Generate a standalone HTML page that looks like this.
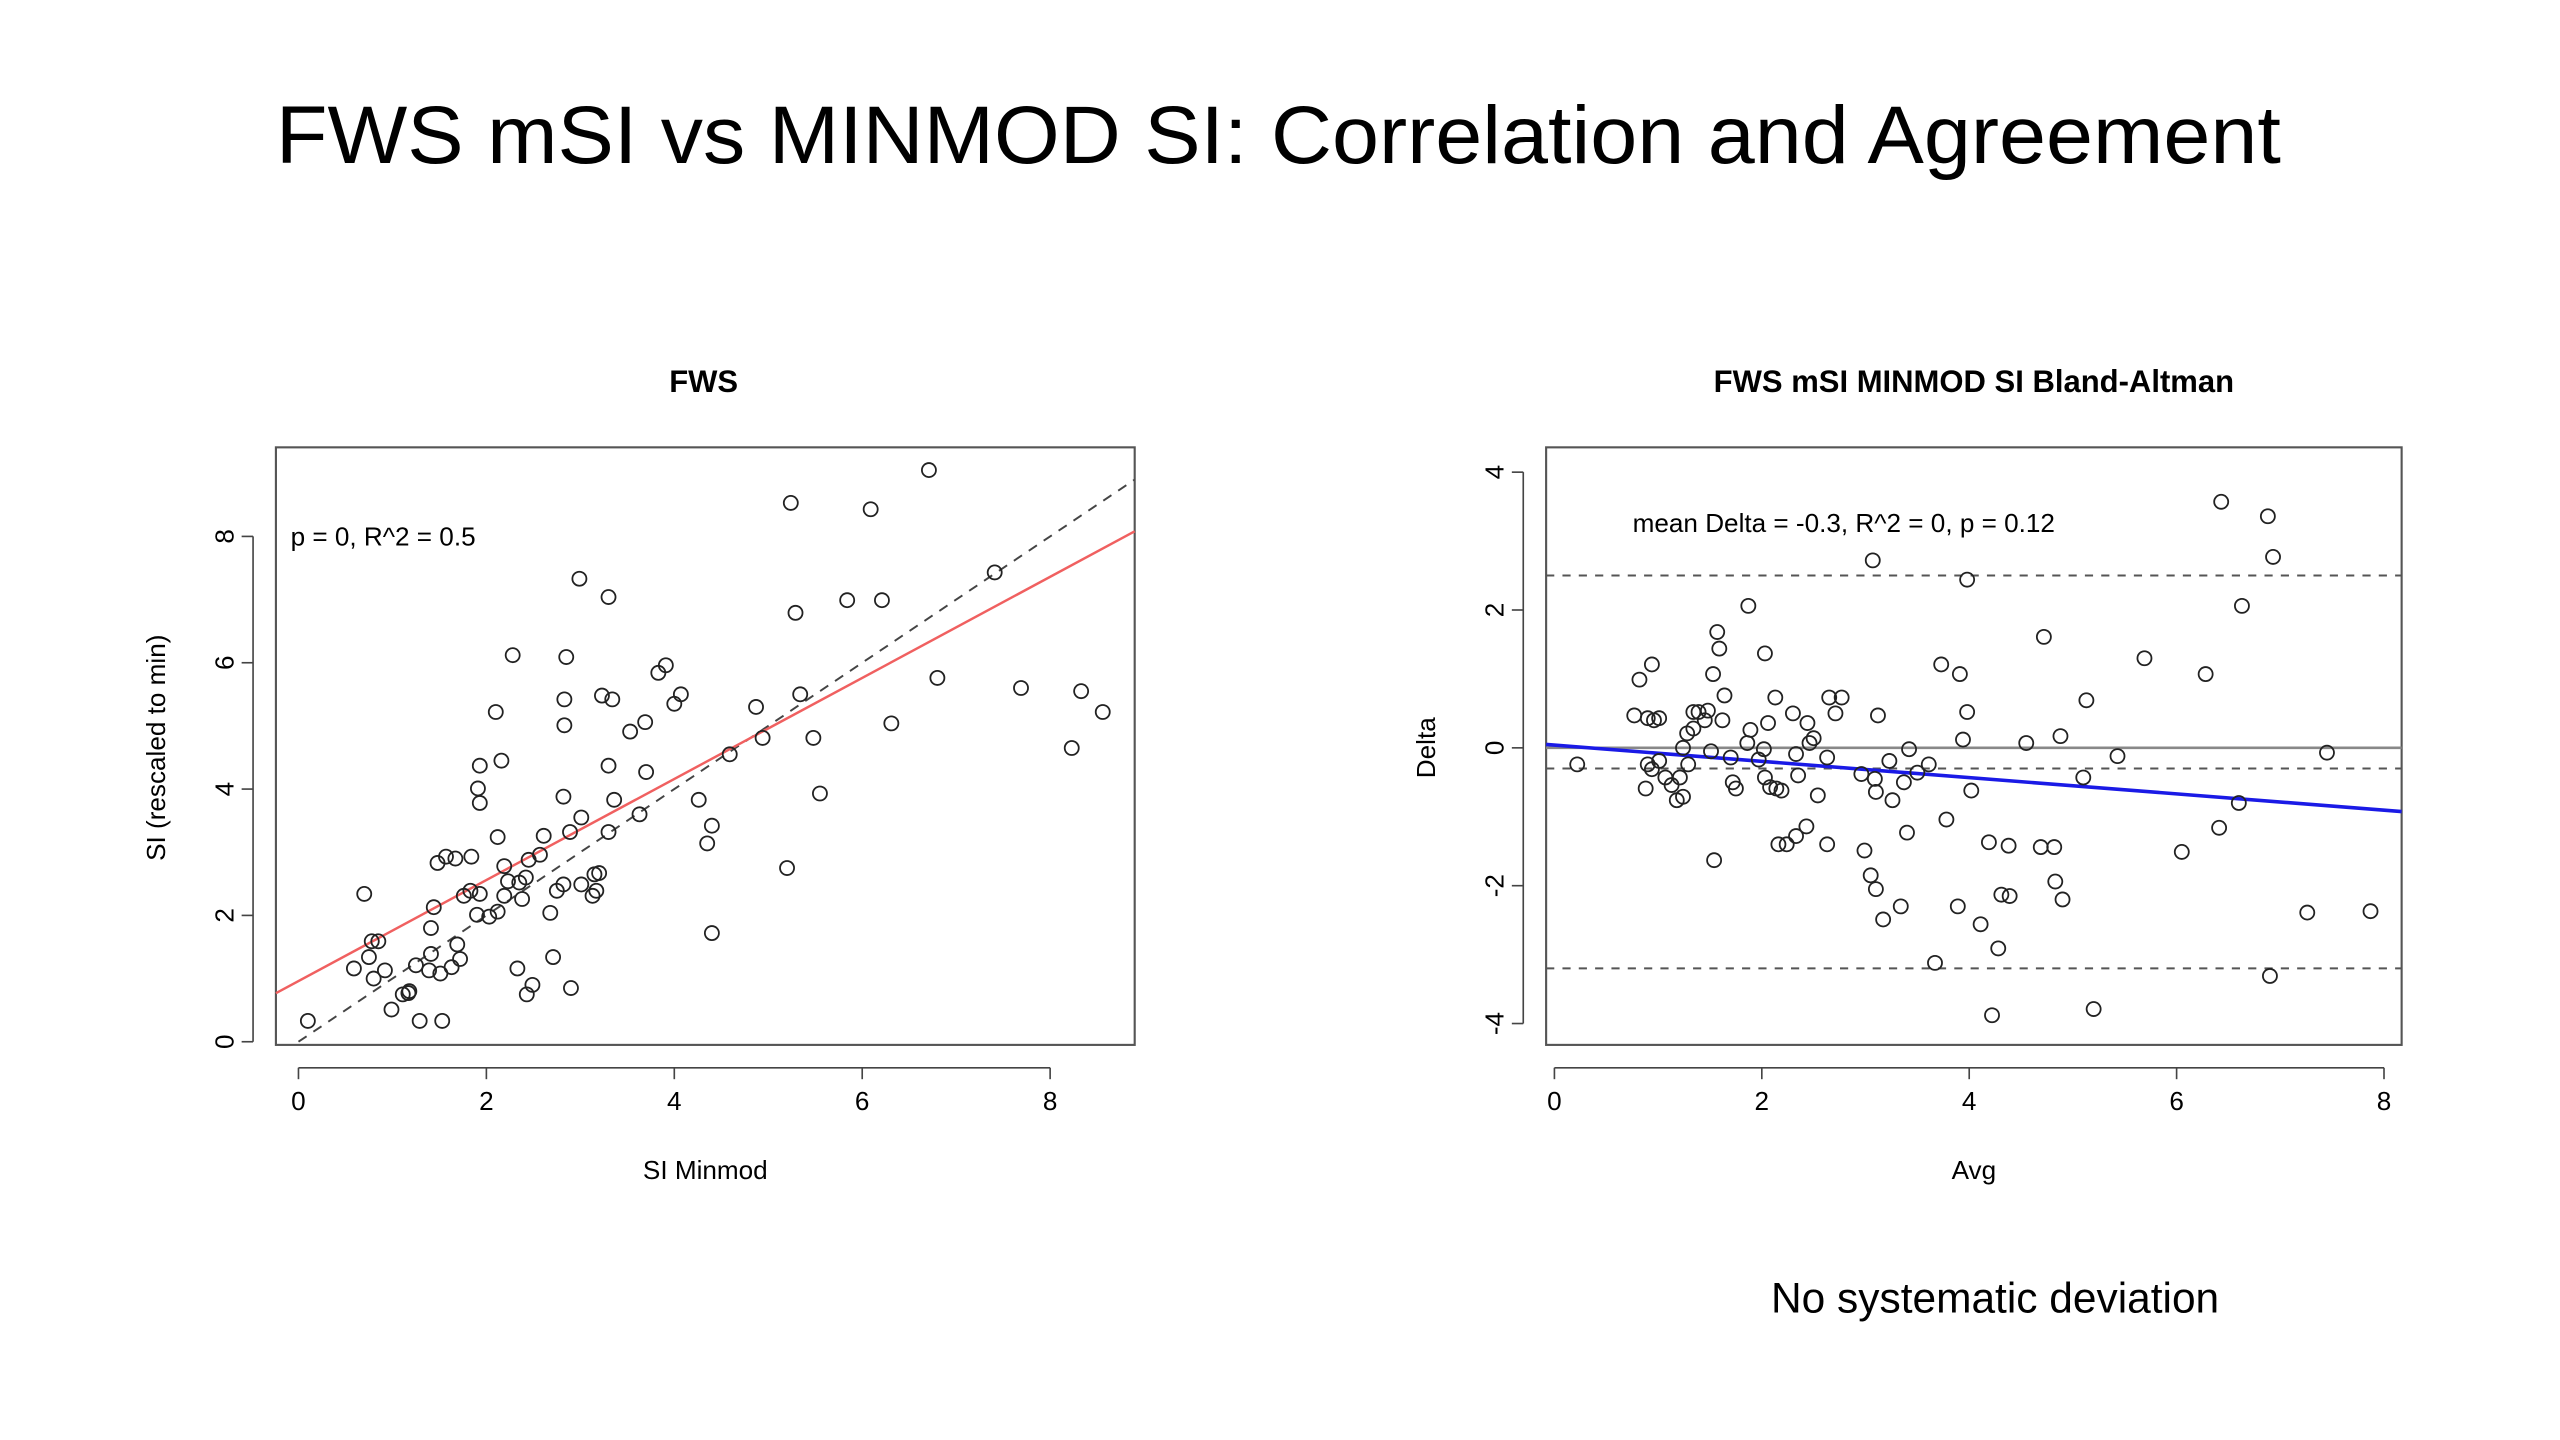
<!DOCTYPE html>
<html><head><meta charset="utf-8"><style>
html,body{margin:0;padding:0;background:#fff;width:2560px;height:1440px;overflow:hidden}
svg{display:block}
text{font-family:"Liberation Sans",sans-serif;fill:#000}
</style></head><body>
<svg id="root" width="2560" height="1440" viewBox="0 0 1568 882" xmlns="http://www.w3.org/2000/svg">
<text x="783" y="100" text-anchor="middle" font-size="50" textLength="1228" lengthAdjust="spacingAndGlyphs">FWS mSI vs MINMOD SI: Correlation and Agreement</text>
<text x="431" y="240" text-anchor="middle" font-size="19" font-weight="bold">FWS</text>
<text x="1209" y="240" text-anchor="middle" font-size="19" font-weight="bold">FWS mSI MINMOD SI Bland-Altman</text>
<text x="432" y="722" text-anchor="middle" font-size="16">SI Minmod</text>
<text transform="translate(101,458) rotate(-90)" text-anchor="middle" font-size="16">SI (rescaled to min)</text>
<text x="1209" y="722" text-anchor="middle" font-size="16">Avg</text>
<text transform="translate(879,458) rotate(-90)" text-anchor="middle" font-size="16">Delta</text>
<text x="178" y="334" font-size="16">p = 0, R^2 = 0.5</text>
<text x="1000" y="326" font-size="16">mean Delta = -0.3, R^2 = 0, p = 0.12</text>
<text x="1222" y="804" text-anchor="middle" font-size="26">No systematic deviation</text>
<g id="left"></g>
<g id="right"></g>
</svg>
<script>
const NS='http://www.w3.org/2000/svg';
// Left scatter data
const leftX=[0.10,0.70,0.59,0.75,0.78,0.85,0.92,0.80,0.99,1.11,1.18,1.17,1.29,1.53,1.25,1.41,1.41,1.44,1.48,1.57,1.67,1.39,1.51,1.63,1.72,1.69,1.76,1.83,1.93,1.90,1.84,1.93,1.91,1.93,2.03,2.12,2.19,2.23,2.12,2.16,2.10,2.28,2.19,2.35,2.38,2.42,2.45,2.57,2.61,2.49,2.33,2.43,2.71,2.68,2.75,2.82,2.85,2.83,2.83,2.82,2.89,3.01,3.01,3.13,3.17,3.20,3.23,3.34,3.30,3.36,3.30,2.99,3.15,2.90,3.30,3.53,3.69,3.63,3.70,3.83,3.91,4.00,4.07,4.26,4.35,4.40,4.40,4.59,4.87,4.94,5.24,5.29,5.34,5.48,5.55,5.20,5.84,6.21,6.31,6.09,6.71,6.80,7.41,7.69,8.23,8.33,8.56];
const leftY=[0.33,2.34,1.16,1.34,1.59,1.59,1.13,1.00,0.51,0.75,0.80,0.77,0.33,0.33,1.21,1.39,1.80,2.13,2.83,2.93,2.90,1.13,1.08,1.18,1.31,1.54,2.31,2.39,2.34,2.01,2.93,4.37,4.01,3.78,1.98,2.06,2.31,2.54,3.24,4.45,5.22,6.12,2.78,2.52,2.26,2.60,2.88,2.96,3.26,0.90,1.16,0.75,1.34,2.04,2.39,2.49,6.09,5.42,5.01,3.88,3.32,3.55,2.49,2.31,2.39,2.67,5.48,5.42,4.37,3.83,7.04,7.33,2.65,0.85,3.32,4.91,5.06,3.60,4.27,5.84,5.96,5.35,5.50,3.83,3.14,3.42,1.72,4.55,5.30,4.81,8.53,6.79,5.50,4.81,3.93,2.75,6.99,6.99,5.04,8.43,9.05,5.76,7.43,5.60,4.65,5.55,5.22];
const leftXTicks=[0,2,4,6,8];
const leftYTicks=[0,2,4,6,8];
const fitIntercept=0.96, fitSlope=0.80;
// Bland-Altman data
const baAvg=[0.22,0.82,0.94,0.77,0.90,0.96,1.01,0.88,0.94,1.01,1.07,0.90,1.13,1.21,1.24,1.28,1.34,1.39,1.29,1.24,1.18,1.34,1.45,1.48,1.53,1.57,1.59,1.64,1.62,1.51,1.54,1.70,1.72,1.75,1.87,1.86,1.89,1.97,2.02,2.03,2.06,2.03,2.08,2.13,2.14,2.19,2.30,2.33,2.35,2.46,2.44,2.50,2.54,2.63,2.65,2.71,2.16,2.24,2.33,2.43,2.63,2.77,2.96,3.12,3.07,3.09,3.10,3.23,3.26,2.99,3.05,3.10,3.34,3.17,3.37,3.42,3.40,3.50,3.61,3.67,3.78,3.73,3.91,3.94,3.98,3.98,4.02,3.89,4.11,4.19,4.22,4.28,4.31,4.38,4.39,4.55,4.72,4.69,4.82,4.83,4.90,4.88,5.10,5.13,5.20,5.43,5.69,6.28,6.05,6.41,6.43,6.60,6.63,6.88,6.90,6.93,7.26,7.45,7.87];
const baDelta=[-0.24,0.99,1.21,0.47,0.43,0.40,0.43,-0.59,-0.31,-0.19,-0.43,-0.24,-0.54,-0.43,0.00,0.21,0.52,0.52,-0.24,-0.71,-0.76,0.28,0.40,0.54,1.07,1.68,1.44,0.76,0.40,-0.05,-1.63,-0.14,-0.50,-0.59,2.06,0.07,0.26,-0.17,-0.02,1.37,0.36,-0.43,-0.57,0.73,-0.59,-0.62,0.50,-0.09,-0.40,0.07,0.36,0.14,-0.69,-0.14,0.73,0.50,-1.40,-1.40,-1.28,-1.14,-1.40,0.73,-0.38,0.47,2.72,-0.45,-0.64,-0.19,-0.76,-1.49,-1.85,-2.05,-2.30,-2.49,-0.50,-0.02,-1.23,-0.36,-0.24,-3.12,-1.04,1.21,1.07,0.12,2.44,0.52,-0.62,-2.30,-2.56,-1.37,-3.88,-2.91,-2.13,-1.42,-2.15,0.07,1.61,-1.44,-1.44,-1.94,-2.20,0.17,-0.43,0.69,-3.79,-0.12,1.30,1.07,-1.51,-1.16,3.57,-0.80,2.06,3.36,-3.31,2.77,-2.39,-0.07,-2.37];
const baXTicks=[0,2,4,6,8];
const baYTicks=[-4,-2,0,2,4];
const meanDelta=-0.3, upperLoA=2.5, lowerLoA=-3.2;
const baIntercept=0.04, baSlope=-0.118;

function el(parent,tag,attrs){const e=document.createElementNS(NS,tag);for(const k in attrs)e.setAttribute(k,attrs[k]);parent.appendChild(e);return e;}
function makePlot(g,box,xr,yr){
  const sx=v=>box.l+(v-xr[0])/(xr[1]-xr[0])*(box.r-box.l);
  const sy=v=>box.b-(v-yr[0])/(yr[1]-yr[0])*(box.b-box.t);
  return {sx,sy};
}
function axes(g,box,sc,xt,yt,prefix){
  const xa=el(g,'g',{});
  
  
  el(xa,'line',{x1:sc.sx(xt[0]),x2:sc.sx(xt[xt.length-1]),y1:box.b+14,y2:box.b+14,stroke:'#444','stroke-width':1});
  xt.forEach(v=>{
    el(xa,'line',{x1:sc.sx(v),x2:sc.sx(v),y1:box.b+14,y2:box.b+21,stroke:'#444','stroke-width':1});
    const t=el(xa,'text',{x:sc.sx(v),y:box.b+40,'text-anchor':'middle','font-size':16});
    
    
    t.textContent=v;
  });
  const ya=el(g,'g',{});
  
  
  el(ya,'line',{x1:box.l-14,x2:box.l-14,y1:sc.sy(yt[0]),y2:sc.sy(yt[yt.length-1]),stroke:'#444','stroke-width':1});
  yt.forEach(v=>{
    el(ya,'line',{x1:box.l-21,x2:box.l-14,y1:sc.sy(v),y2:sc.sy(v),stroke:'#444','stroke-width':1});
    const t=el(ya,'text',{transform:`translate(${box.l-26},${sc.sy(v)}) rotate(-90)`,'text-anchor':'middle','font-size':16});
    
    
    t.textContent=v;
  });
  const fr=el(g,'rect',{x:box.l,y:box.t,width:box.r-box.l,height:box.b-box.t,fill:'none',stroke:'#555','stroke-width':1.3});
  
  
}
function points(g,sc,xs,ys,prefix){
  xs.forEach((x,i)=>{
    const c=el(g,'circle',{cx:sc.sx(x),cy:sc.sy(ys[i]),r:4.3,fill:'none',stroke:'#222','stroke-width':1.1});
    
    
  });
}
// Left
const gl=document.getElementById('left');
const boxL={l:169,r:695,t:274,b:640};
const xrL=[-0.24,8.90], yrL=[-0.05,9.41];
const sL=makePlot(gl,boxL,xrL,yrL);
axes(gl,boxL,sL,leftXTicks,leftYTicks,'left');
const cp=el(gl,'clipPath',{id:'cl'});el(cp,'rect',{x:boxL.l,y:boxL.t,width:boxL.r-boxL.l,height:boxL.b-boxL.t});
const idl=el(gl,'line',{x1:sL.sx(0),y1:sL.sy(0),x2:sL.sx(xrL[1]),y2:sL.sy(xrL[1]),stroke:'#444','stroke-width':1.2,'stroke-dasharray':'6,5','clip-path':'url(#cl)'});


const rl=el(gl,'line',{x1:sL.sx(xrL[0]),y1:sL.sy(fitIntercept+fitSlope*xrL[0]),x2:sL.sx(xrL[1]),y2:sL.sy(fitIntercept+fitSlope*xrL[1]),stroke:'#f06060','stroke-width':1.5});


points(gl,sL,leftX,leftY,'left');
// Right
const gr=document.getElementById('right');
const boxR={l:947,r:1471,t:274,b:640};
const xrR=[-0.08,8.17], yrR=[-4.31,4.36];
const sR=makePlot(gr,boxR,xrR,yrR);
axes(gr,boxR,sR,baXTicks,baYTicks,'right');
const zl=el(gr,'line',{x1:boxR.l,x2:boxR.r,y1:sR.sy(0),y2:sR.sy(0),stroke:'#888','stroke-width':1.6});


[[meanDelta,'mean-delta-line'],[upperLoA,'upper-limit-line'],[lowerLoA,'lower-limit-line']].forEach(([v,n])=>{
  const l=el(gr,'line',{x1:boxR.l,x2:boxR.r,y1:sR.sy(v),y2:sR.sy(v),stroke:'#555','stroke-width':1.2,'stroke-dasharray':'5,5'});
  
  
});
const bl=el(gr,'line',{x1:sR.sx(xrR[0]),y1:sR.sy(baIntercept+baSlope*xrR[0]),x2:sR.sx(xrR[1]),y2:sR.sy(baIntercept+baSlope*xrR[1]),stroke:'#1a1ae6','stroke-width':2.2});


points(gr,sR,baAvg,baDelta,'right');
</script>
</body></html>
